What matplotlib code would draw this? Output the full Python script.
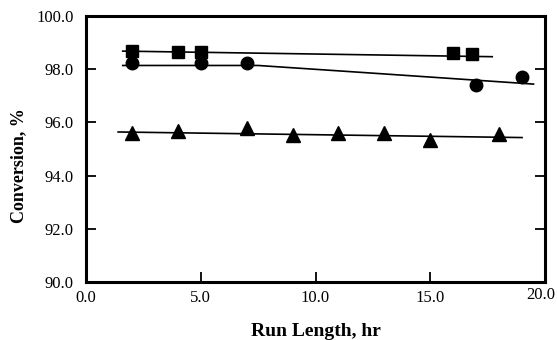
import matplotlib
matplotlib.use("Agg")
import matplotlib.pyplot as plt
import matplotlib.transforms as mtransforms

plt.rcParams["font.family"] = ["Liberation Serif", "DejaVu Serif"]

# data
sq_x = [2.0, 4.0, 5.0, 16.0, 16.8]
sq_y = [98.68, 98.65, 98.65, 98.62, 98.58]
sq_fit_x = [1.6, 17.7]
sq_fit_y = [98.68, 98.47]

ci_x = [2.0, 5.0, 7.0, 17.0, 19.0]
ci_y = [98.22, 98.22, 98.22, 97.41, 97.72]
ci_fit_x = [1.6, 7.5, 12.0, 19.5]
ci_fit_y = [98.14, 98.14, 97.88, 97.44]

tr_x = [2.0, 4.0, 7.0, 9.0, 11.0, 13.0, 15.0, 18.0]
tr_y = [95.6, 95.68, 95.8, 95.52, 95.62, 95.6, 95.33, 95.56]
tr_fit_x = [1.4, 19.0]
tr_fit_y = [95.64, 95.43]

x_ticks = [0.0, 5.0, 10.0, 15.0, 20.0]
y_ticks = [90.0, 92.0, 94.0, 96.0, 98.0, 100.0]

fig = plt.figure(figsize=(5.57, 3.4), dpi=100)
ax = fig.add_axes([86 / 557, 1 - 282 / 340, 459 / 557, 266 / 340])

ax.plot(sq_fit_x, sq_fit_y, color="black", lw=1.2)
ax.plot(ci_fit_x, ci_fit_y, color="black", lw=1.2)
ax.plot(tr_fit_x, tr_fit_y, color="black", lw=1.2)

ax.plot(sq_x, sq_y, ls="none", marker="s", ms=8, color="black")
ax.plot(ci_x, ci_y, ls="none", marker="o", ms=9, color="black")
ax.plot(tr_x, tr_y, ls="none", marker="^", ms=10, color="black")

ax.set_xlim(0, 20)
ax.set_ylim(90, 100)
ax.set_xticks(x_ticks)
ax.set_yticks(y_ticks)
ax.set_xticklabels([f"{v:.1f}" for v in x_ticks])
ax.set_yticklabels([f"{v:.1f}" for v in y_ticks])
ax.tick_params(axis="both", direction="in", labelsize=12, width=1.3, length=7,
               pad=6)
ax.tick_params(axis="y", right=True, pad=9)
for s in ax.spines.values():
    s.set_linewidth(2.2)

# nudge the last x label inside the canvas, it sits slightly higher too
last = ax.get_xticklabels()[-1]
last.set_transform(last.get_transform()
                   + mtransforms.ScaledTranslation(-0.04, 0.03, fig.dpi_scale_trans))

ax.set_xlabel("Run Length, hr", fontsize=14, fontweight="bold", labelpad=12)
ax.set_ylabel("Conversion, %", fontsize=13, fontweight="bold")
ax.yaxis.set_label_coords(-0.128, 0.436)

fig.savefig("out.png", dpi=100)
